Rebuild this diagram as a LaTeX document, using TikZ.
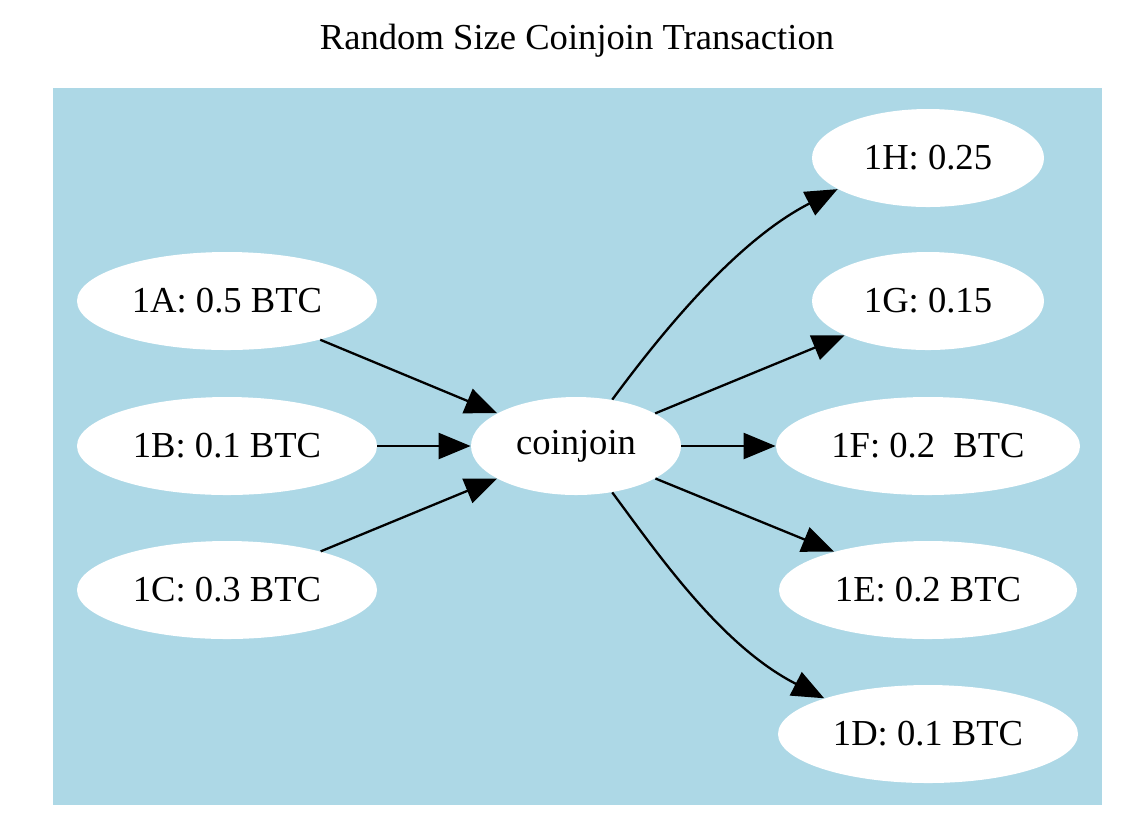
\documentclass[tikz,border=0pt]{standalone}
\usepackage{fontspec}
\setmainfont{Liberation Serif}
\usetikzlibrary{shapes.geometric,arrows.meta}
\definecolor{gvblue}{RGB}{173,216,230}
\tikzset{
  gvnode/.style={ellipse, fill=white, draw=none, inner sep=0pt, minimum height=49pt,
    font=\fontsize{18.3}{22}\selectfont},
  gvedge/.style={line width=1.15pt, -{Triangle[length=16pt,width=13pt]}},
}
\begin{document}
\begin{tikzpicture}[x=0.5pt,y=-0.5pt]
\useasboundingbox (0,0) rectangle (1138,832);
\fill[white] (0,0) rectangle (1138,832);
\node[font=\fontsize{18.3}{22}\selectfont] (title) at (577,41) {Random Size Coinjoin Transaction};
\fill[gvblue] (53,88) rectangle (1102,805);
\node[gvnode, minimum width=150pt] (A) at (227,301) {1A: 0.5 BTC};
\node[gvnode, minimum width=150pt] (B) at (227,446) {1B: 0.1 BTC};
\node[gvnode, minimum width=150pt] (C) at (227,590) {1C: 0.3 BTC};
\node[gvnode, minimum width=105pt] (cj) at (576,446) {coinjoin};
\node[gvnode, minimum width=116pt] (H) at (928,158) {1H: 0.25};
\node[gvnode, minimum width=116pt] (G) at (928,301) {1G: 0.15};
\node[gvnode, minimum width=152pt] (F) at (928,446) {1F: 0.2\ \ BTC};
\node[gvnode, minimum width=149pt] (E) at (928,590) {1E: 0.2 BTC};
\node[gvnode, minimum width=150pt] (D) at (928,734) {1D: 0.1 BTC};
\draw[gvedge] (A) -- (cj);
\draw[gvedge] (B) -- (cj);
\draw[gvedge] (C) -- (cj);
\draw[gvedge] (cj.52) .. controls +(48,-65) and +(-102,52) .. (H.199);
\draw[gvedge] (cj) -- (G);
\draw[gvedge] (cj) -- (F);
\draw[gvedge] (cj) -- (E);
\draw[gvedge] (cj.-52) .. controls +(48,65) and +(-102,-52) .. (D.161);
\end{tikzpicture}
\end{document}
